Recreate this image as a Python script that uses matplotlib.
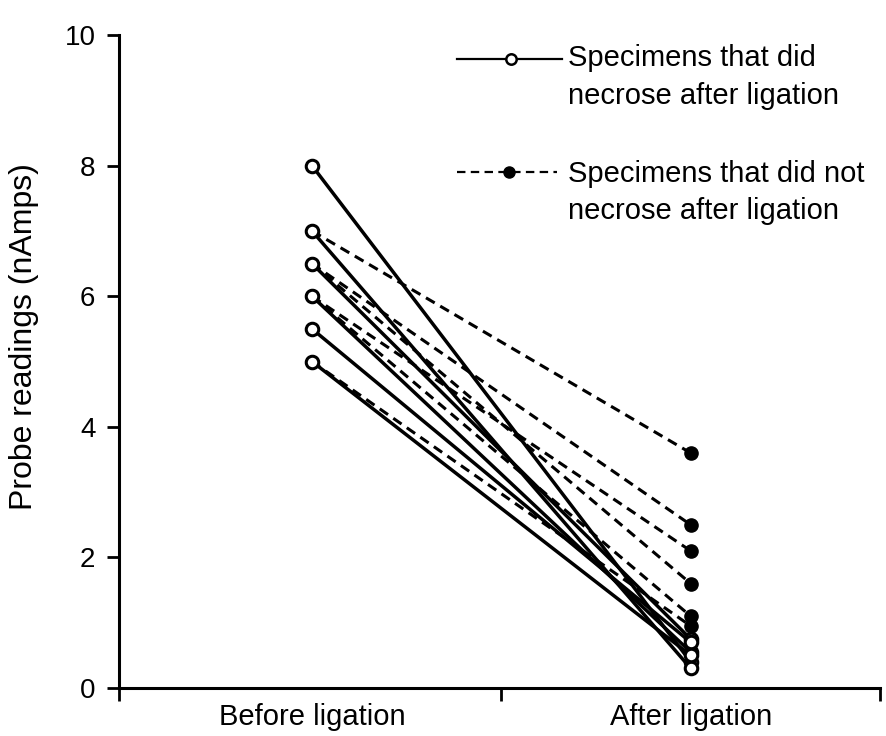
import matplotlib.pyplot as plt
from matplotlib.lines import Line2D

plt.rcParams["font.family"] = ["Liberation Sans", "DejaVu Sans"]

# Probe readings (nAmps), one pair per specimen
necrose_before = [8.0, 7.0, 6.5, 6.0, 5.5, 5.0]
necrose_after = [0.4, 0.3, 0.75, 0.55, 0.7, 0.5]
no_necrose_before = [7.0, 6.5, 6.0, 6.5, 6.0, 5.0]
no_necrose_after = [3.6, 2.5, 2.1, 1.6, 1.1, 0.95]

positions = [0, 1]
category_labels = ["Before ligation", "After ligation"]
y_ticks = [0, 2, 4, 6, 8, 10]

fig = plt.figure(figsize=(8.86, 7.36), dpi=100)
ax = fig.add_axes([0.1343, 0.0652, 0.859, 0.887])

# Specimens that did not necrose: dashed, filled circles
for b, a in zip(no_necrose_before, no_necrose_after):
    ax.plot(positions, [b, a], color="black", lw=2.2, ls=(0, (3.3, 2.1)),
            marker="o", ms=9.5, mfc="black", mec="black", zorder=2)

# Specimens that did necrose: solid, open circles
for b, a in zip(necrose_before, necrose_after):
    ax.plot(positions, [b, a], color="black", lw=2.5, ls="-",
            marker="o", ms=9, mfc="white", mec="black", mew=2.2, zorder=3)

ax.set_xlim(-0.51, 1.5)
ax.set_ylim(0, 10)
ax.set_yticks(y_ticks)
ax.set_xticks([-0.51, 0.5, 1.5], labels=["", "", ""])
ax.set_xticks(positions, labels=category_labels, minor=True)
ax.tick_params(axis="x", which="minor", length=0, pad=11, labelsize=21)
ax.tick_params(axis="both", which="major", direction="out", length=9,
               width=2, labelsize=20, pad=8)
ax.set_ylabel("Probe readings (nAmps)", fontsize=23)
ax.yaxis.set_label_coords(-0.105, 0.539)

for side in ["top", "right"]:
    ax.spines[side].set_visible(False)
for side in ["left", "bottom"]:
    ax.spines[side].set_linewidth(2.2)

# Legend drawn by hand so the key sits on the first text line
W, H = 886, 736
fig.add_artist(Line2D([457 / W, 562 / W], [1 - 59 / H] * 2, color="black",
                      lw=1.6, transform=fig.transFigure))
fig.add_artist(Line2D([511 / W], [1 - 59 / H], marker="o", ms=7.5,
                      mfc="white", mec="black", mew=1.8, transform=fig.transFigure))
fig.add_artist(Line2D([457 / W, 557 / W], [1 - 172 / H] * 2, color="black",
                      lw=1.6, ls=(0, (3.8, 2.4)), transform=fig.transFigure))
fig.add_artist(Line2D([509 / W], [1 - 172 / H], marker="o", ms=8,
                      mfc="black", mec="black", transform=fig.transFigure))
fig.text(568 / W, 1 - 44 / H, "Specimens that did\nnecrose after ligation",
         fontsize=21, va="top", ha="left", linespacing=1.45)
fig.text(568 / W, 1 - 160 / H, "Specimens that did not\nnecrose after ligation",
         fontsize=21, va="top", ha="left", linespacing=1.4)

fig.savefig("out.png", dpi=100)
